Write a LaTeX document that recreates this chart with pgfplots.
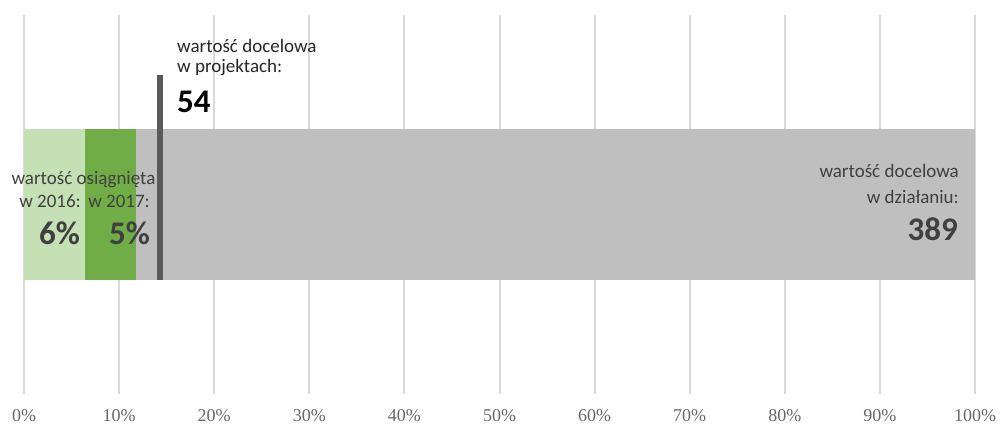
\documentclass[border=0pt]{standalone}
\usepackage{fontspec}
\setmainfont{Carlito}
\newfontfamily\tickfont{Liberation Serif}
\usepackage{pgfplots}
\pgfplotsset{compat=1.18}
\definecolor{lgreen}{HTML}{C5E0B4}
\definecolor{dgreen}{HTML}{70AD47}
\definecolor{bargray}{HTML}{BFBFBF}
\definecolor{linegray}{HTML}{595959}
\definecolor{gridgray}{HTML}{D9D9D9}
\definecolor{txt}{HTML}{404040}
\definecolor{txtdark}{HTML}{262626}
\definecolor{ticktxt}{HTML}{666666}
\begin{document}
\begin{tikzpicture}
\begin{axis}[
  at={(0,0)}, anchor=south west,
  scale only axis, width=951pt, height=379pt,
  xmin=0, xmax=100, ymin=0, ymax=379,
  clip=false,
  axis line style={draw=none},
  tick style={draw=none},
  ytick=\empty,
  xtick={0,10,...,100},
  xticklabels={0\%,10\%,20\%,30\%,40\%,50\%,60\%,70\%,80\%,90\%,100\%},
  xticklabel style={font=\tickfont\fontsize{18}{18}\selectfont, text=ticktxt, inner sep=0pt, yshift=-15pt},
  xmajorgrids, major grid style={gridgray, line width=2pt},
]
\addplot[xbar, bar width=151pt, bar shift=0pt, fill=bargray, draw=none] coordinates {(100,189.5)};
\addplot[xbar, bar width=151pt, bar shift=0pt, fill=dgreen, draw=none] coordinates {(11.8,189.5)};
\addplot[xbar, bar width=151pt, bar shift=0pt, fill=lgreen, draw=none] coordinates {(6.4,189.5)};
\addplot[linegray, line width=6pt, mark=none] coordinates {(14.3,114) (14.3,319)};

\begin{scope}[every node/.style={inner sep=0pt, text=txt, font=\fontsize{19}{19}\selectfont}]
\node[anchor=base] at (axis cs:6.26,209) {wartość osiągnięta};
\node[anchor=base east] at (axis cs:5.99,187) {w 2016:};
\node[anchor=base east] at (axis cs:13.25,187) {w 2017:};
\node[anchor=base east, font=\fontsize{33}{33}\selectfont\bfseries] at (axis cs:5.89,150) {6\%};
\node[anchor=base east, font=\fontsize{33}{33}\selectfont\bfseries] at (axis cs:13.25,150) {5\%};
\node[anchor=base west, text=txtdark] at (axis cs:16.09,341) {wartość docelowa};
\node[anchor=base west, text=txtdark] at (axis cs:16.09,321) {w projektach:};
\node[anchor=base west, text=black, font=\fontsize{33}{33}\selectfont\bfseries] at (axis cs:16.09,281) {54};
\node[anchor=base east] at (axis cs:98.32,216) {wartość docelowa};
\node[anchor=base east] at (axis cs:98.32,191) {w działaniu:};
\node[anchor=base east, font=\fontsize{33}{33}\selectfont\bfseries] at (axis cs:98.21,154) {389};
\end{scope}
\end{axis}
\pgfresetboundingbox
\useasboundingbox (-24pt,-32pt) rectangle (976pt,394pt);
\end{tikzpicture}
\end{document}
